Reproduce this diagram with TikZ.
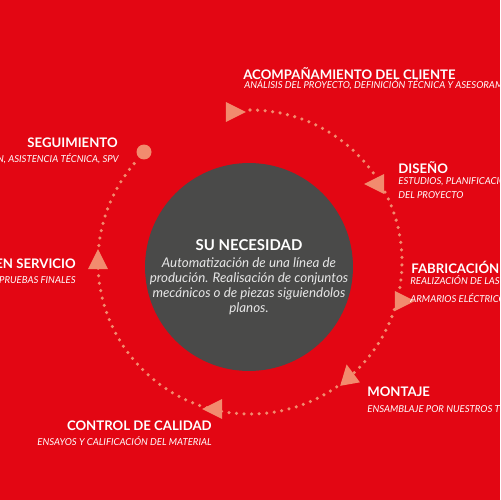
\documentclass[tikz,border=0pt]{standalone}
\usepackage{fontspec}
\setmainfont{Lato}
\usetikzlibrary{shapes.geometric}
\definecolor{bgred}{HTML}{E30613}
\definecolor{coal}{HTML}{4A4A49}
\definecolor{salmon}{HTML}{F28B6E}
\definecolor{softwhite}{HTML}{E6E6E6}

\begin{document}
\begin{tikzpicture}[
  x=0.02cm,y=-0.02cm,
  head/.style={font=\fontsize{7.5}{8}\selectfont\bfseries,text=white,inner sep=0pt},
  sub/.style={font=\fontsize{5.45}{6}\selectfont\itshape,text=white,inner sep=0pt},
  tri/.style={isosceles triangle,isosceles triangle stretches,fill=salmon,inner sep=0pt,minimum width=0.4cm,minimum height=0.4cm},
  ring/.style={draw=salmon,line width=2pt,line cap=round,dash pattern=on 0pt off 4.3pt}
]
\clip (0,0) rectangle (500,500);
\fill[bgred] (0,0) rectangle (500,500);

% dotted cycle
\coordinate (hub) at (250,262);
\draw[ring] ([shift={(-90:152)}]hub) arc[start angle=-90,end angle=222,radius=152];

% centre
\node[circle,fill=coal,minimum size=4.16cm,inner sep=0pt] (need) at (249,267) {};
\node[font=\fontsize{8.5}{9}\selectfont\bfseries,text=white,inner sep=0pt,anchor=base] (needtitle) at (249,250) {SU NECESIDAD};
\node[font=\fontsize{7.6}{8.6}\selectfont\itshape,text=softwhite,align=center,inner sep=0pt] (needtxt) at (249,286)
  {Automatización de una línea de\\produción. Realisación de conjuntos\\mecánicos o de piezas siguiendolos\\planos.};

% markers on the cycle
\node[circle,fill=salmon,minimum size=0.3cm,inner sep=0pt] (seg) at (144,152) {};
\node[tri] (t1) at (232,112) {};
\node[tri,rotate=180] (t2) at (378,184) {};
\node[tri] (t3) at (401,301) {};
\node[tri,rotate=100] (t4) at (349,378) {};
\node[tri,rotate=180] (t5) at (216,409) {};
\node[tri,rotate=90] (t6) at (98,263) {};

% steps
\node[head,anchor=base west] (acomp) at (243,80) {ACOMPAÑAMIENTO DEL CLIENTE};
\node[sub,anchor=base west] (acompsub) at (244,89) {ANÁLISIS DEL PROYECTO, DEFINICIÓN TÉCNICA Y ASESORAMIENTO};
\node[head,anchor=base west] (diseno) at (398,173) {DISEÑO};
\node[sub,anchor=base west] (disenosub) at (398,184) {ESTUDIOS, PLANIFICACIÓN};
\node[sub,anchor=base west] (disenosub2) at (398,198) {DEL PROYECTO};
\node[head,anchor=base west] (fabri) at (411,273) {FABRICACIÓN};
\node[sub,anchor=base west] (fabrisub) at (410,284) {REALIZACIÓN DE LAS PIEZAS Y};
\node[sub,anchor=base west] (fabrisub2) at (410,302) {ARMARIOS ELÉCTRICOS};
\node[head,anchor=base west] (montaje) at (367,396) {MONTAJE};
\node[sub,anchor=base west] (montajesub) at (367,412) {ENSAMBLAJE POR NUESTROS TÉCNICOS};
\node[head,anchor=base east] (control) at (212,430) {CONTROL DE CALIDAD};
\node[sub,anchor=base east] (controlsub) at (212,445) {ENSAYOS Y CALIFICACIÓN DEL MATERIAL};
\node[head,anchor=base east] (servicio) at (76,268) {PUESTA EN SERVICIO};
\node[sub,anchor=base east] (serviciosub) at (76,283) {PRUEBAS FINALES};
\node[head,anchor=base east] (segui) at (118,147) {SEGUIMIENTO};
\node[sub,anchor=base east] (seguisub) at (119,162) {FORMACIÓN, ASISTENCIA TÉCNICA, SPV};
\end{tikzpicture}
\end{document}
